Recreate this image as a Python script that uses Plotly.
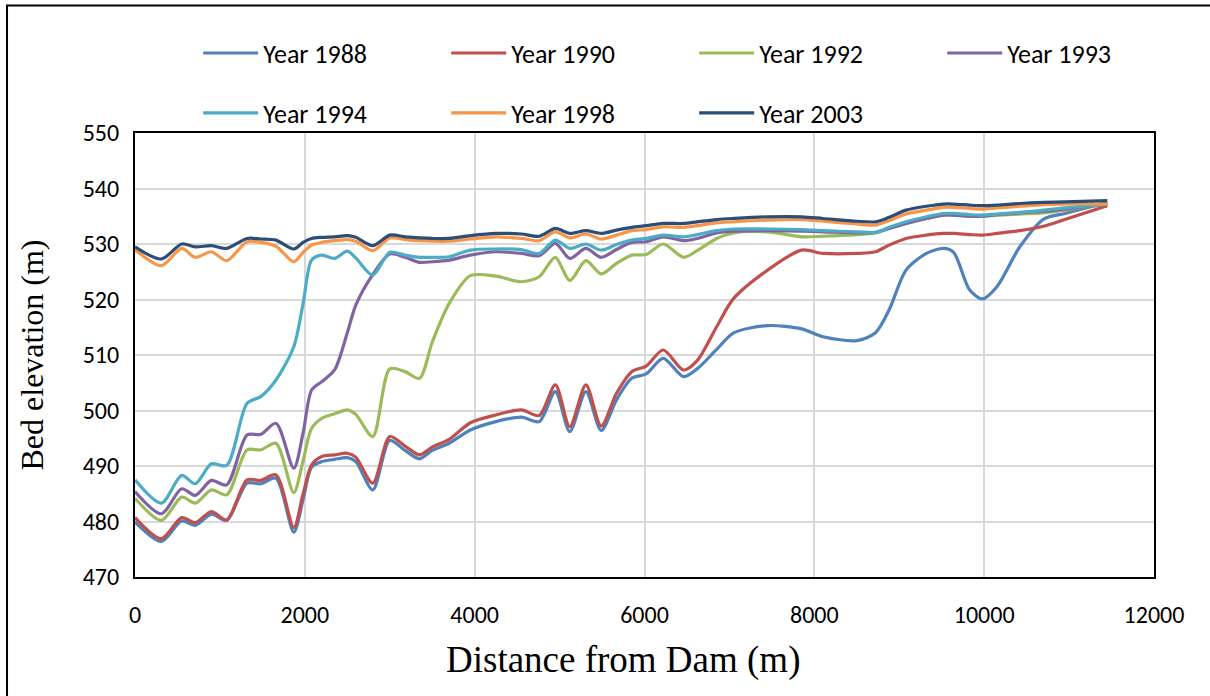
import plotly.graph_objects as go

# Survey cross-section stations, distance downstream of the dam (m)
distance = [0, 310, 550, 710, 900, 1080, 1320, 1480, 1660, 1870, 1980, 2080, 2200, 2350,
            2500, 2600, 2800, 3000, 3180, 3350, 3500, 3700, 3950, 4250, 4550, 4760, 4950,
            5120, 5310, 5490, 5670, 5850, 6020, 6220, 6460, 6620, 6850, 7050, 7450, 7850,
            8100, 8500, 8720, 8880, 9080, 9320, 9520, 9640, 9830, 9980, 10150, 10420,
            10700, 10950, 11450]

# Bed elevation (m) at each station, by survey year
bed_1988 = [479.9, 476.4, 480.1, 479.3, 481.3, 480.2, 486.9, 486.8, 487.8, 478.1, 484.0, 489.8,
            490.8, 491.2, 491.5, 490.8, 485.7, 494.6, 492.8, 491.3, 492.8, 494.1, 496.5, 498.0,
            498.8, 498.0, 503.4, 496.2, 503.4, 496.4, 501.9, 505.8, 506.6, 509.4, 506.1, 507.5,
            511.0, 514.0, 515.3, 514.7, 513.3, 512.6, 514.0, 518.1, 525.3, 528.3, 529.2, 528.5,
            521.7, 520.1, 522.3, 529.5, 534.5, 535.5, 537.5]
bed_1990 = [480.7, 476.9, 480.7, 479.8, 481.8, 480.3, 487.5, 487.4, 488.4, 478.9, 485.0, 490.2,
            491.7, 492.0, 492.3, 491.6, 486.9, 495.3, 493.6, 492.0, 493.4, 494.8, 497.8, 499.2,
            500.1, 499.1, 504.6, 497.1, 504.6, 497.2, 503.1, 507.0, 508.0, 510.9, 507.3, 509.0,
            515.1, 520.2, 525.3, 528.9, 528.3, 528.3, 528.6, 529.8, 531.0, 531.6, 531.9, 531.9,
            531.7, 531.6, 531.9, 532.4, 533.2, 534.4, 536.9]
bed_1992 = [484.2, 480.2, 484.4, 483.3, 485.7, 484.8, 492.9, 492.9, 494.1, 485.2, 491.0, 496.8,
            498.6, 499.4, 500.1, 499.3, 495.3, 507.5, 507.0, 505.8, 512.3, 519.3, 524.3, 524.2,
            523.2, 524.1, 527.6, 523.4, 527.0, 524.6, 526.5, 528.0, 528.1, 530.0, 527.6, 528.8,
            531.0, 532.0, 532.2, 531.3, 531.4, 531.7, 532.0, 532.8, 533.7, 534.6, 535.2, 535.2,
            535.0, 535.0, 535.2, 535.4, 535.6, 536.1, 537.2]
bed_1993 = [485.4, 481.4, 485.9, 484.7, 487.4, 486.6, 495.6, 495.7, 497.7, 489.6, 496.0, 503.7,
            505.2, 507.3, 514.0, 519.0, 524.5, 528.2, 527.6, 526.7, 526.8, 527.1, 528.0, 528.6,
            528.3, 527.9, 530.1, 527.4, 529.2, 527.6, 529.0, 530.3, 530.4, 531.3, 530.6, 531.0,
            532.0, 532.3, 532.4, 532.3, 532.2, 532.0, 532.1, 532.8, 533.7, 534.6, 535.2, 535.2,
            535.0, 535.0, 535.3, 535.6, 535.9, 536.3, 537.2]
bed_1994 = [487.5, 483.3, 488.3, 486.8, 490.4, 490.1, 501.3, 502.5, 505.5, 511.5, 519.3, 527.1,
            528.0, 527.4, 528.7, 527.5, 524.4, 528.5, 528.0, 527.6, 527.6, 527.7, 528.9, 529.1,
            529.0, 528.3, 530.7, 529.2, 530.0, 528.9, 529.9, 530.7, 531.0, 531.6, 531.3, 531.7,
            532.4, 532.7, 532.7, 532.6, 532.4, 532.2, 532.1, 533.0, 534.0, 534.9, 535.5, 535.5,
            535.3, 535.2, 535.4, 535.7, 536.1, 536.5, 537.2]
bed_1998 = [529.0, 526.1, 529.2, 527.6, 528.6, 527.0, 530.4, 530.3, 529.6, 526.8, 528.5, 529.8,
            530.3, 530.6, 530.8, 530.5, 528.8, 531.1, 530.8, 530.6, 530.5, 530.5, 530.9, 531.3,
            531.0, 530.6, 532.2, 531.1, 531.8, 530.9, 531.6, 532.4, 532.6, 533.1, 533.0, 533.3,
            533.8, 534.0, 534.3, 534.4, 534.1, 533.6, 533.4, 534.2, 535.4, 536.1, 536.6, 536.6,
            536.4, 536.3, 536.5, 536.8, 537.1, 537.2, 537.2]
bed_2003 = [529.5, 527.3, 530.0, 529.5, 529.7, 529.2, 531.0, 530.9, 530.7, 529.1, 530.3, 531.0,
            531.2, 531.3, 531.5, 531.2, 529.7, 531.6, 531.3, 531.1, 531.0, 531.0, 531.5, 531.9,
            531.8, 531.4, 532.8, 531.9, 532.4, 531.9, 532.5, 533.0, 533.3, 533.7, 533.7, 534.0,
            534.4, 534.6, 534.9, 534.9, 534.6, 534.1, 534.0, 534.8, 536.1, 536.8, 537.2, 537.2,
            537.0, 536.9, 537.0, 537.3, 537.5, 537.6, 537.8]

series_names = ["Year 1988", "Year 1990", "Year 1992", "Year 1993",
                "Year 1994", "Year 1998", "Year 2003"]
series_values = [bed_1988, bed_1990, bed_1992, bed_1993, bed_1994, bed_1998, bed_2003]
series_colors = ["#4F81BD", "#C0504D", "#9BBB59", "#8064A2", "#4BACC6", "#F79646", "#2C4D75"]

x_ticks = [0, 2000, 4000, 6000, 8000, 10000, 12000]
y_ticks = [470, 480, 490, 500, 510, 520, 530, 540, 550]

SANS = "Carlito, Calibri, Lato, sans-serif"
SERIF = "'Liberation Serif', 'Times New Roman', serif"

fig = go.Figure()
for i, (name, vals, col) in enumerate(zip(series_names, series_values, series_colors)):
    fig.add_trace(go.Scatter(
        x=distance, y=vals, name=name, mode="lines",
        line=dict(color=col, width=3.2, shape="spline", smoothing=0.8),
        legend="legend" if i < 4 else "legend2",
    ))

legend_common = dict(
    orientation="h", xanchor="left", yanchor="middle",
    font=dict(family=SANS, size=26, color="#000000"),
    entrywidth=178, entrywidthmode="pixels",
    bgcolor="rgba(0,0,0,0)", itemwidth=55, traceorder="normal",
)

fig.update_layout(
    width=1210, height=696,
    margin=dict(l=135, r=56, t=133, b=119),
    paper_bgcolor="white", plot_bgcolor="white",
    showlegend=True,
    legend=dict(x=0.062, y=1.180, **legend_common),
    legend2=dict(x=0.062, y=1.045, **legend_common),
    xaxis=dict(
        range=[0, 12000], tickvals=x_ticks, ticktext=[str(v) for v in x_ticks],
        showgrid=True, gridcolor="#D9D9D9", gridwidth=1.5,
        showline=True, linecolor="#000000", linewidth=2, mirror=True,
        ticks="", ticklabelstandoff=15,
        tickfont=dict(family=SANS, size=24, color="#000000"),
        zeroline=False,
    ),
    yaxis=dict(
        range=[470, 550], tickvals=y_ticks,
        showgrid=True, gridcolor="#D9D9D9", gridwidth=1.5,
        showline=True, linecolor="#000000", linewidth=2, mirror=True,
        ticks="", ticklabelstandoff=9,
        tickfont=dict(family=SANS, size=24, color="#000000"),
        title=dict(text="Bed elevation (m)", standoff=30,
                   font=dict(family=SERIF, size=32, color="#000000")),
        zeroline=False,
    ),
    annotations=[dict(text="Distance from Dam (m)", xref="paper", yref="paper",
                      x=0.479, y=-0.187, xanchor="center", yanchor="middle",
                      showarrow=False,
                      font=dict(family=SERIF, size=37, color="#000000"))],
    shapes=[dict(type="rect", xref="paper", yref="paper",
                 x0=-0.1256, x1=1.2, y0=-0.35, y1=1.287,
                 line=dict(color="#000000", width=2), fillcolor="rgba(0,0,0,0)",
                 layer="below")],
)

fig.write_html("out.html")
